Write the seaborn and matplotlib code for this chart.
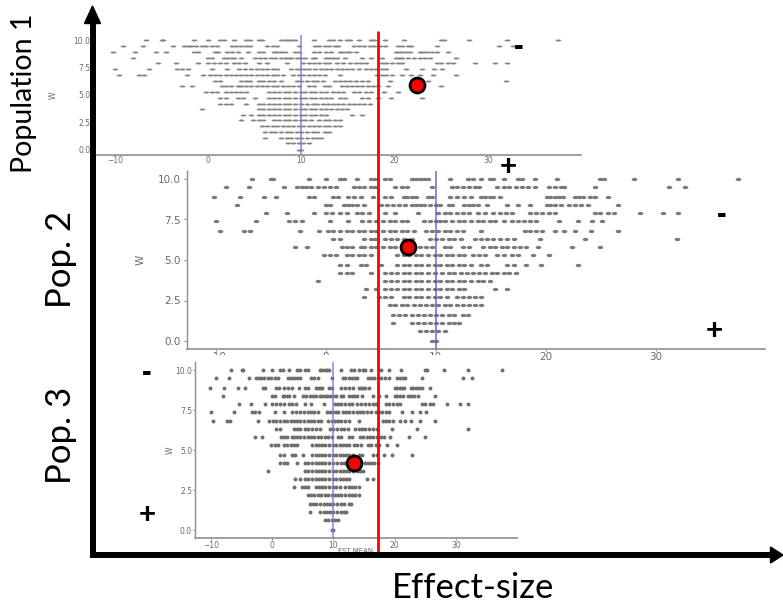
import numpy as np
import pandas as pd
import matplotlib
matplotlib.use("Agg")
import matplotlib.pyplot as plt
import seaborn as sns
from matplotlib.path import Path
from matplotlib.transforms import Affine2D
from matplotlib.patches import Polygon

# ---------------- data ----------------
w_levels = [0.0, 0.6, 1.1, 1.6, 2.2, 2.7, 3.2, 3.7, 4.2, 4.7,
            5.3, 5.8, 6.3, 6.8, 7.4, 7.9, 8.4, 8.9, 9.5, 10.0]

row_w00 = [9.7, 10.0]
row_w01 = [8.6, 9.1, 9.7, 10.2, 10.8]
row_w02 = [6.1, 7.8, 8.4, 8.9, 9.5, 10.0, 10.6, 11.2, 11.7, 12.1]
row_w03 = [6.1, 6.7, 7.2, 7.8, 8.4, 8.9, 9.5, 10.0, 10.6, 11.2, 11.7, 12.5, 12.9]
row_w04 = [5.8, 6.3, 6.9, 7.4, 8.0, 8.6, 9.1, 9.7, 10.2, 10.8, 11.3, 11.9, 12.5, 13.0, 13.6, 14.1]
row_w05 = [3.5, 4.8, 5.4, 5.9, 7.1, 7.6, 8.2, 8.7, 9.3, 9.9, 10.4, 11.0, 11.9, 12.5, 13.0, 13.6, 14.1]
row_w06 = [3.7, 4.6, 5.4, 5.9, 6.5, 7.1, 7.6, 8.2, 8.7, 9.3, 9.9, 10.4, 11.0, 11.5, 12.1, 12.6, 15.4, 16.5]
row_w07 = [-0.7, 5.4, 5.9, 6.5, 7.1, 7.6, 8.2, 8.7, 9.3, 9.9, 10.4, 11.0, 11.5, 12.1, 12.6, 13.2,
           13.8, 14.3, 14.9]
row_w08 = [1.3, 1.9, 2.4, 4.1, 5.4, 5.9, 6.5, 7.1, 7.6, 8.2, 8.7, 9.3, 9.9, 10.6, 11.2, 11.7, 12.3,
           12.8, 13.4, 13.9, 14.5, 15.1, 15.6, 16.2, 16.7, 17.3]
row_w09 = [1.3, 1.9, 3.2, 3.7, 5.0, 6.5, 7.1, 7.6, 8.2, 8.7, 9.3, 9.9, 10.4, 11.0, 11.5, 12.1, 12.6,
           13.2, 14.1, 14.7, 16.5, 17.1, 18.2, 19.6, 22.9]
row_w10 = [-0.2, 0.4, 0.9, 1.9, 2.4, 3.0, 3.5, 4.1, 6.5, 7.1, 7.6, 8.2, 8.7, 9.3, 9.9, 10.4, 11.0,
           11.5, 12.1, 12.6, 13.4, 13.9, 14.5, 15.6, 16.2, 16.9, 17.5, 18.8, 20.3]
row_w11 = [-2.8, -1.7, 1.5, 1.9, 2.4, 3.2, 3.5, 4.1, 4.6, 5.2, 5.8, 6.3, 6.9, 7.4, 8.0, 8.6, 9.1,
           9.7, 10.8, 11.3, 12.5, 13.0, 14.3, 14.9, 15.4, 16.0, 16.5, 17.1, 17.7, 18.2, 19.3, 22.4, 24.9]
row_w12 = [0.7, 1.3, 3.5, 4.1, 4.5, 5.4, 5.9, 6.5, 7.1, 7.8, 9.5, 10.0, 10.6, 11.2, 11.7, 12.3,
           13.6, 14.1, 14.7, 15.2, 15.8, 16.5, 17.1, 19.5, 23.6, 31.9]
row_w13 = [-9.6, -7.4, -6.9, -2.3, -0.6, 0.2, 0.7, 1.3, 1.9, 2.4, 3.0, 3.5, 4.1, 4.6, 5.2, 5.8,
           6.3, 6.9, 7.4, 8.0, 9.1, 9.7, 10.2, 10.8, 11.3, 11.9, 12.5, 14.1, 18.1, 18.6, 19.1, 19.7,
           20.8, 21.7, 22.7, 24.1, 26.6]
row_w14 = [-10.0, -6.3, -3.3, -2.8, -2.2, 0.4, 2.0, 3.3, 3.9, 4.6, 5.2, 5.8, 6.3, 6.9, 7.4, 8.9,
           9.5, 10.0, 10.4, 10.8, 11.5, 12.1, 12.6, 13.2, 13.8, 14.3, 14.9, 15.4, 16.2, 16.9, 17.5,
           18.0, 18.6, 19.1, 21.2, 22.9, 24.2, 25.1]
row_w15 = [-5.4, -3.5, -1.1, 0.0, 0.6, 1.3, 1.9, 2.8, 3.3, 3.9, 5.4, 6.3, 8.4, 10.2, 10.8, 11.3,
           11.9, 12.5, 13.0, 13.8, 14.5, 15.2, 15.8, 16.4, 16.9, 18.6, 19.1, 19.7, 20.3, 20.8, 24.5,
           24.9, 25.7, 26.2, 28.6, 30.7, 32.0]
row_w16 = [-8.1, 0.0, 0.4, 1.7, 2.0, 2.4, 2.8, 3.5, 5.0, 5.6, 6.1, 6.7, 7.2, 7.8, 8.2, 8.6, 8.9,
           9.5, 10.0, 10.4, 11.2, 11.5, 12.6, 13.0, 13.4, 13.8, 14.7, 16.5, 17.5, 18.6, 20.1, 20.4,
           20.8, 21.4, 22.1, 22.7, 23.2, 23.8, 26.6]
row_w17 = [-10.2, -7.8, -5.6, -4.5, -1.5, -1.1, 0.7, 1.1, 2.0, 2.6, 3.2, 4.3, 5.4, 5.9, 7.1, 7.4,
           7.8, 8.2, 9.3, 9.7, 11.3, 11.9, 12.6, 13.2, 14.1, 14.5, 14.9, 15.2, 15.8, 20.1, 20.4,
           20.8, 21.2, 21.6, 22.7, 23.0, 23.4, 24.0, 24.5, 25.7]
row_w18 = [-9.1, -7.0, -3.8, -2.6, -2.2, -1.8, -1.3, -0.7, -0.2, 0.4, 0.9, 2.6, 3.0, 3.5, 4.1,
           4.5, 6.3, 6.9, 7.4, 9.7, 11.5, 11.9, 12.5, 13.0, 13.6, 13.9, 15.6, 16.2, 16.7, 17.3,
           17.8, 18.4, 19.0, 20.3, 20.8, 21.4, 21.7, 24.5, 31.2, 32.7]
row_w19 = [-6.7, -5.0, -4.8, -1.5, 0.0, 1.3, 1.7, 2.8, 4.1, 4.5, 5.4, 5.8, 7.8, 8.2, 8.6, 8.9,
           9.3, 11.3, 12.9, 13.4, 14.1, 14.9, 15.2, 16.2, 17.5, 17.8, 19.0, 21.0, 24.9, 25.3, 28.0,
           32.0, 37.5]

rows = [row_w00, row_w01, row_w02, row_w03, row_w04, row_w05, row_w06, row_w07, row_w08, row_w09,
        row_w10, row_w11, row_w12, row_w13, row_w14, row_w15, row_w16, row_w17, row_w18, row_w19]

mean_line = 10.0                       # blue vertical line (FST MEAN)
pop_names = ["Population 1", "Pop. 2", "Pop. 3"]
pop_effect = [22.4, 7.45, 13.3]         # red dot x
pop_w = [5.9, 5.8, 4.2]                 # red dot y
xticks = [-10, 0, 10, 20, 30]
yticks = [0.0, 2.5, 5.0, 7.5, 10.0]

df = pd.DataFrame({
    "fst": [x for r in rows for x in r],
    "w": [w for w, r in zip(w_levels, rows) for _ in r],
})

# ---------------- layout ----------------
W_PX, H_PX = 783, 608
sns.set_style("ticks")
plt.rcParams["font.family"] = ["DejaVu Sans"]
fig = plt.figure(figsize=(W_PX / 100, H_PX / 100), dpi=100)


def box(l, t, r, b):
    return [l / W_PX, 1 - b / H_PX, (r - l) / W_PX, (b - t) / H_PX]


def blank(l, t, r, b):
    a = fig.add_axes(box(l, t, r, b))
    a.set_facecolor("white")
    a.set_xticks([]); a.set_yticks([])
    for s in a.spines.values():
        s.set_visible(False)
    return a


def ellipse(sx, sy):
    return Path.unit_circle().transformed(Affine2D().scale(sx, sy))


panels = [
    dict(px=(90.6, 34.5, 580.5, 155.5), mk=ellipse(1.0, 0.35), s=17, col="#858585",
         fs=5.5, ylab_x=-0.068, tl=0.0, pad=0.2, blue="#7a7ad8", bg=None),
    dict(px=(187.1, 170.9, 764.6, 349.1), mk=ellipse(1.0, 0.6), s=16, col="#7a7a7a",
         fs=7.5, ylab_x=-0.071, tl=2.5, pad=2.0, blue="#5a5acc", bg=(140, 168, 772, 354)),
    dict(px=(195.0, 362.0, 516.6, 538.0), mk="o", s=8, col="#6e6e6e",
         fs=5.5, ylab_x=-0.064, tl=1.5, pad=0.6, blue="#7a7ad8", bg=(168, 355, 518, 552)),
]

for i, p in enumerate(panels):
    if p["bg"] is not None:
        blank(*p["bg"])
    ax = fig.add_axes(box(*p["px"]))
    ax.set_facecolor("none")
    sns.scatterplot(data=df, x="fst", y="w", ax=ax, marker=p["mk"], s=p["s"],
                    color=p["col"], linewidth=0, legend=False, zorder=2)
    ax.axvline(mean_line, color=p["blue"], lw=1.1, alpha=0.9, zorder=3)
    sns.scatterplot(x=[pop_effect[i]], y=[pop_w[i]], ax=ax, s=115, color="#ff0000",
                    edgecolor="black", linewidth=2.0, zorder=5, legend=False)
    ax.set_xlim(-12.6, 39.9)
    ax.set_ylim(-0.5, 10.5)
    ax.set_xticks(xticks)
    ax.set_yticks(yticks)
    ax.set_yticklabels([f"{v:.1f}" for v in yticks])
    ax.tick_params(axis="both", labelsize=p["fs"], labelcolor="#6a6a6a", color="#777777",
                   length=p["tl"], width=0.6, pad=p["pad"])
    ax.tick_params(axis="x", length=min(p["tl"], 1.5), pad=0.3)
    sns.despine(ax=ax)
    ax.spines["left"].set_color("#8c8c8c")
    ax.spines["bottom"].set_color("#a0a0a0")
    ax.spines["left"].set_linewidth(1.0)
    ax.spines["bottom"].set_linewidth(1.4)
    ax.set_ylabel("W", fontsize=p["fs"], color="#6a6a6a")
    ax.yaxis.set_label_coords(p["ylab_x"], 0.5)
    if i == 2:
        ax.set_xlabel("FST MEAN", fontsize=5, color="#6a6a6a")
        ax.xaxis.set_label_coords(0.5, -0.058)
    elif i == 1:
        ax.set_xlabel("FST MEAN", fontsize=6, color="#6a6a6a")
    else:
        ax.set_xlabel("")

# ---------------- overlay (schematic arrows, threshold line, labels) ----------------
ov = fig.add_axes([0, 0, 1, 1], zorder=10)
ov.set_xlim(0, W_PX)
ov.set_ylim(H_PX, 0)
ov.axis("off")

# red threshold line
ov.plot([378, 378], [31, 553], color="#ff0000", lw=2.0, solid_capstyle="butt")

# black axes with arrowheads
ov.plot([92.5, 92.5], [558, 22], color="black", lw=4.3, solid_capstyle="butt")
ov.plot([90, 771], [555, 555], color="black", lw=4.3, solid_capstyle="butt")
ov.add_patch(Polygon([[84.5, 23.5], [100.5, 23.5], [92.5, 6]], closed=True, color="black"))
ov.add_patch(Polygon([[770.5, 547], [770.5, 563], [783, 555]], closed=True, color="black"))

lab_font = ["Lato", "DejaVu Sans"]
ov.text(24, 93, pop_names[0], rotation=90, ha="center", va="center", fontsize=20.5,
        family=lab_font, color="black")
ov.text(61, 259, pop_names[1], rotation=90, ha="center", va="center", fontsize=25,
        family=lab_font, color="black")
ov.text(61, 435, pop_names[2], rotation=90, ha="center", va="center", fontsize=25,
        family=lab_font, color="black")
ov.text(473, 588, "Effect-size", ha="center", va="center", fontsize=25, family=lab_font,
        color="black")

signs = [("-", 519, 47), ("+", 508, 167), ("-", 722, 215), ("+", 714, 331),
         ("-", 147, 373), ("+", 147, 515)]
for ch, x, y in signs:
    ov.text(x, y, ch, ha="center", va="center", fontsize=21, fontweight="bold",
            family=["Liberation Sans", "DejaVu Sans"], color="black")

fig.savefig("out.png", dpi=100)
